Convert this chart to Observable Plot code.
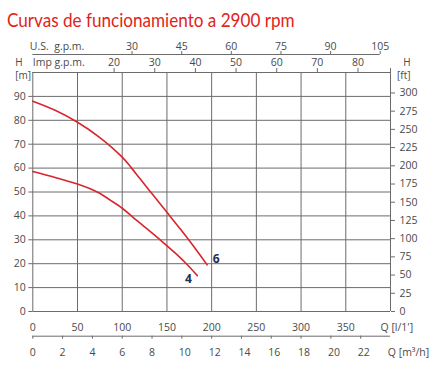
<!DOCTYPE html>
<html><head><meta charset="utf-8">
<script src="https://cdn.jsdelivr.net/npm/d3@7"></script>
<script src="https://cdn.jsdelivr.net/npm/@observablehq/plot@0.6"></script>
<style>
body{margin:0;background:#fff;}
#wrap{position:relative;width:446px;height:374px;overflow:hidden;background:#fff;}
#title{position:absolute;left:7px;top:10px;font-family:Lato,sans-serif;font-size:19px;line-height:1;color:#e2231a;white-space:nowrap;transform:scaleX(0.9);transform-origin:0 0;}
#chart{position:absolute;left:0;top:36px;}
</style></head><body>
<div id="wrap"><div id="title"></div><div id="chart"></div></div>
<script>
// ---- data ----
const curve6Flow = [0, 25, 50, 75, 100, 110, 120, 135, 150, 165, 180, 195];      // l/min
const curve6Head = [88, 84.2, 79.2, 72.8, 64.6, 60.2, 55.5, 48.5, 41.5, 34.5, 27.2, 19.5]; // m
const curve4Flow = [0, 25, 50, 72, 87, 100, 113, 125, 143, 160, 172, 184];
const curve4Head = [58.6, 56.1, 53.3, 50, 46.5, 43.2, 39.1, 35.4, 29.8, 24.2, 19.9, 15];
const curveNames = ["6", "4"];

const flowTicksLmin = [0, 50, 100, 150, 200, 250, 300, 350];
const flowTicksM3h = [0, 2, 4, 6, 8, 10, 12, 14, 16, 18, 20, 22];
const usGpmTicks = [30, 45, 60, 75, 90, 105];
const impGpmTicks = [20, 30, 40, 50, 60, 70, 80];
const headTicksM = [0, 10, 20, 30, 40, 50, 60, 70, 80, 90];
const headTicksFt = [0, 25, 50, 75, 100, 125, 150, 175, 200, 225, 250, 275, 300];

const title = "Curvas de funcionamiento a 2900 rpm";
const usLabel = "U.S.  g.p.m.";
const impLabel = "Imp g.p.m.";
const leftUnit = "H\n[m]";
const rightUnit = "H\n[ft]";
const qLminLabel = "Q [l/1']";
const qM3hLabel = "Q [m³/h]";

// unit conversions (to l/min and m)
const usGpmToLmin = 3.7;     // as drawn on the reference's scale
const impGpmToLmin = 4.546;
const m3hToLmin = 1000 / 60;
const ftToM = 0.3048;

// ---- layout ----
const W = 446, H = 338;
const mL = 32.3, mR = 56, mT = 36, mB = 63;
const pxPerM = (H - mT - mB) / 100;
const grid = "#6c6c6c";
const red = "#d9252c";
const txt = "#4a4a4a";
const mid = {lineAnchor: "middle"};

const rows6 = curve6Flow.map((q, i) => ({q, h: curve6Head[i], c: curveNames[0]}));
const rows4 = curve4Flow.map((q, i) => ({q, h: curve4Head[i], c: curveNames[1]}));

const plot = Plot.plot({
  width: W, height: H,
  marginLeft: mL, marginRight: mR, marginTop: mT, marginBottom: mB,
  x: {domain: [0, 400], axis: null},
  y: {domain: [0, 100], axis: null},
  style: {fontFamily: "Open Sans, sans-serif", fontSize: "10.5px", color: txt, background: "white", overflow: "visible"},
  marks: [
    Plot.ruleX(d3.range(0, 401, 50), {stroke: grid, strokeWidth: 1}),
    Plot.ruleY(d3.range(0, 101, 10), {stroke: grid, strokeWidth: 1}),
    // left axis (m)
    Plot.axisY(headTicksM, {anchor: "left", tickSize: 4, tickPadding: 3, stroke: grid, label: null}),
    // right axis (ft)
    Plot.axisY(headTicksFt.map(f => f * ftToM), {anchor: "right", tickSize: 4, tickPadding: 5, stroke: grid,
      tickFormat: d => Math.round(d / ftToM), label: null}),
    // bottom axis l/min
    Plot.text(flowTicksLmin, {x: d => d, frameAnchor: "bottom", dy: 16, ...mid, text: d => d}),
    Plot.text([qLminLabel], {frameAnchor: "bottom-right", dx: -10, dy: 16, textAnchor: "start", ...mid, text: d => d}),
    // second bottom axis m3/h
    Plot.ruleY([0], {x1: 0, x2: 400, dy: 24.7, stroke: grid}),
    Plot.ruleX(flowTicksM3h, {x: d => d * m3hToLmin, y1: -24.7 / pxPerM, y2: -27.7 / pxPerM, stroke: grid}),
    Plot.text(flowTicksM3h, {x: d => d * m3hToLmin, frameAnchor: "bottom", dy: 40.7, dx: -3, textAnchor: "start", ...mid, text: d => d}),
    Plot.text([qM3hLabel], {frameAnchor: "bottom-right", dx: -2.7, dy: 40.7, textAnchor: "start", ...mid, text: d => d}),
    // top axis imp gpm
    Plot.ruleX(impGpmTicks, {x: d => d * impGpmToLmin, y1: 100, y2: 100 + 4 / pxPerM, stroke: grid}),
    Plot.ruleX([400], {y1: 100, y2: 100 + 4 / pxPerM, stroke: grid}),
    Plot.text(impGpmTicks, {x: d => d * impGpmToLmin, frameAnchor: "top", dy: -10, ...mid, text: d => d}),
    Plot.text([impLabel], {frameAnchor: "top-left", dx: 0, dy: -10, textAnchor: "start", ...mid, text: d => d}),
    // top axis US gpm
    Plot.ruleY([100], {x1: 0, x2: usGpmTicks[usGpmTicks.length - 1] * usGpmToLmin, dy: -18, stroke: grid}),
    Plot.ruleX(usGpmTicks, {x: d => d * usGpmToLmin, y1: 100 + 18 / pxPerM, y2: 100 + 21 / pxPerM, stroke: grid}),
    Plot.text(usGpmTicks, {x: d => d * usGpmToLmin, frameAnchor: "top", dy: -26, ...mid, text: d => d}),
    Plot.text([usLabel], {frameAnchor: "top-left", dx: -3, dy: -26, textAnchor: "start", ...mid, text: d => d}),
    // H unit labels
    Plot.text([leftUnit], {frameAnchor: "top-left", dx: -17.5, dy: -4.5, fontSize: 10, lineHeight: 1.35, ...mid, text: d => d}),
    Plot.text([rightUnit], {frameAnchor: "top-right", dx: 20, dy: -4.5, fontSize: 10, lineHeight: 1.35, ...mid, text: d => d}),
    // curves
    Plot.line(rows6, {x: "q", y: "h", stroke: red, strokeWidth: 1.6, curve: "catmull-rom"}),
    Plot.line(rows4, {x: "q", y: "h", stroke: red, strokeWidth: 1.6, curve: "catmull-rom"}),
    Plot.text([rows6[rows6.length - 1]], {x: "q", y: "h", text: "c", dx: 9, dy: -5.5, fill: "#1d2f5a", fontWeight: "bold", fontSize: 12}),
    Plot.text([rows4[rows4.length - 1]], {x: "q", y: "h", text: "c", dx: -9, dy: 4, fill: "#1d2f5a", fontWeight: "bold", fontSize: 12})
  ]
});
document.getElementById("title").textContent = title;
document.getElementById("chart").appendChild(plot);
</script>
</body></html>
